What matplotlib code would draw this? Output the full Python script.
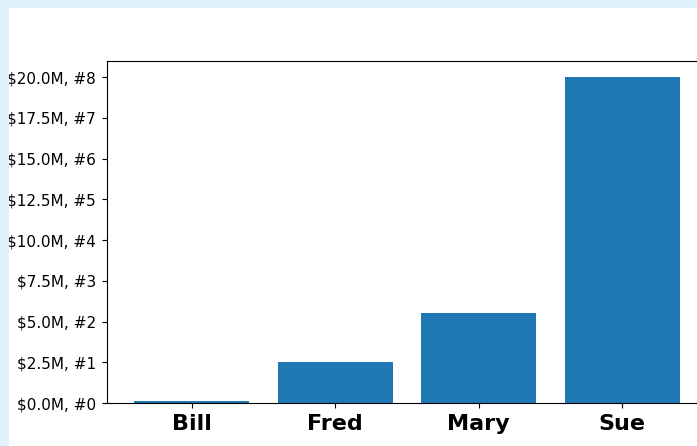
import matplotlib
matplotlib.use('Agg')
import matplotlib.pyplot as plt
from matplotlib.patches import Rectangle
from matplotlib.ticker import FuncFormatter

names = ['Bill', 'Fred', 'Mary', 'Sue']
money = [1.5e5, 2.5e6, 5.5e6, 2.0e7]


def millions(x, pos):
    return '${:1.1f}M, #{}'.format(x * 1e-6, pos)


W, H = 697, 446
strip = '#e0f3fb'
fig = plt.figure(figsize=(W / 100, H / 100), dpi=100)
fig.patch.set_facecolor('white')

ax = fig.add_axes([107 / W, (H - 403) / H, 600 / W, 342 / H])
ax.bar(names, money, color='#1f77b4')
ax.yaxis.set_major_formatter(FuncFormatter(millions))
ax.tick_params(axis='y', labelsize=11, pad=4.5)
ax.tick_params(axis='x', pad=4.5)
for lbl in ax.get_xticklabels():
    lbl.set_fontsize(16)
    lbl.set_fontweight('bold')

# light blue page strips on the left and top, drawn over the figure edge
fig.add_artist(Rectangle((0, 0), 9 / W, 1, transform=fig.transFigure,
                         facecolor=strip, edgecolor='none', zorder=10))
fig.add_artist(Rectangle((0, 1 - 8 / H), 1, 8 / H, transform=fig.transFigure,
                         facecolor=strip, edgecolor='none', zorder=10))

fig.savefig('out.png', dpi=100)
